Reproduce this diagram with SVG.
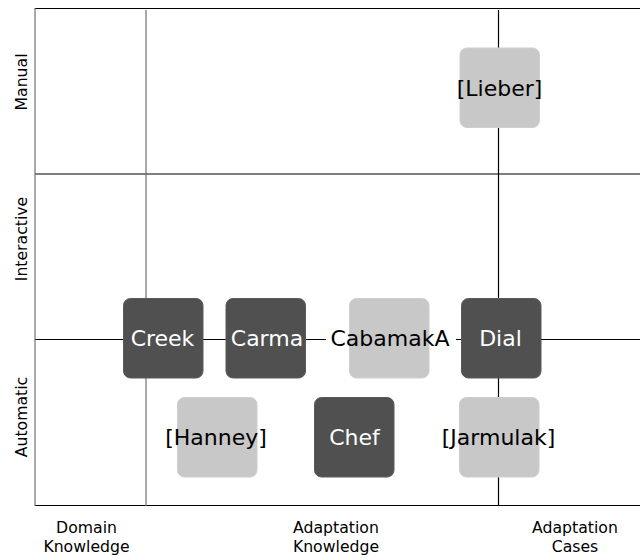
<svg xmlns="http://www.w3.org/2000/svg" width="640" height="558" viewBox="0 0 640 558">
<style>
.bg{fill:#ffffff}
.hl{stroke:#000000;stroke-width:1.2;fill:none}
.gl{stroke:#707070;stroke-width:1.2;fill:none}
.dark rect{fill:#505050;stroke:#5a5a5a;stroke-width:1}
.light rect{fill:#c8c8c8;stroke:#cecece;stroke-width:1}
.dark text{fill:#ffffff}
.light text{fill:#000000}
text{font-family:"DejaVu Sans","Liberation Sans",sans-serif}
.nt{font-size:22px;text-anchor:middle}
.ax{font-size:15.7px;text-anchor:middle;fill:#000000}
</style>
<rect class="bg" x="0" y="0" width="640" height="558"/>
<g id="grid">
<line class="hl" x1="35" y1="8.5" x2="640" y2="8.5"/>
<line class="hl" x1="35" y1="174" x2="640" y2="174"/>
<line class="hl" x1="35" y1="339.5" x2="326" y2="339.5"/>
<line class="hl" x1="456" y1="339.5" x2="640" y2="339.5"/>
<line class="hl" x1="35" y1="505.5" x2="640" y2="505.5"/>
<line class="gl" x1="35" y1="8" x2="35" y2="506"/>
<line class="gl" x1="146" y1="10" x2="146" y2="506"/>
<line class="hl" x1="498.5" y1="10" x2="498.5" y2="506"/>
</g>
<g id="axis-labels">
<text class="ax" transform="translate(26.5,82) rotate(-90)">Manual</text>
<text class="ax" transform="translate(26.5,239) rotate(-90)">Interactive</text>
<text class="ax" transform="translate(26.5,417) rotate(-90)">Automatic</text>
<text class="ax" x="86.5" y="532.5">Domain</text>
<text class="ax" x="86.5" y="551.5">Knowledge</text>
<text class="ax" x="336" y="532.5">Adaptation</text>
<text class="ax" x="336" y="551.5">Knowledge</text>
<text class="ax" x="575" y="532.5">Adaptation</text>
<text class="ax" x="575" y="551.5">Cases</text>
</g>
<g id="lieber" class="light">
<rect x="460" y="48" width="79.5" height="79.5" rx="7"/>
<text class="nt" x="499.5" y="95.5">[Lieber]</text>
</g>
<g id="creek" class="dark">
<rect x="123.5" y="298.5" width="79.5" height="79.5" rx="7"/>
<text class="nt" x="162.5" y="345.8">Creek</text>
</g>
<g id="carma" class="dark">
<rect x="226" y="298.5" width="79.5" height="79.5" rx="7"/>
<text class="nt" x="267" y="345.8">Carma</text>
</g>
<g id="cabamaka" class="light">
<rect x="349.5" y="298.5" width="79.5" height="79.5" rx="7"/>
<text class="nt" x="390" y="345.8">CabamakA</text>
</g>
<g id="dial" class="dark">
<rect x="461.5" y="298.5" width="79.5" height="79.5" rx="7"/>
<text class="nt" x="500.5" y="345.8">Dial</text>
</g>
<g id="hanney" class="light">
<rect x="177.5" y="397.5" width="79.5" height="79.5" rx="7"/>
<text class="nt" x="216" y="444.5">[Hanney]</text>
</g>
<g id="chef" class="dark">
<rect x="314.5" y="397.5" width="79.5" height="79.5" rx="7"/>
<text class="nt" x="354.5" y="444.5">Chef</text>
</g>
<g id="jarmulak" class="light">
<rect x="459.5" y="397.5" width="79.5" height="79.5" rx="7"/>
<text class="nt" x="498.5" y="444.5">[Jarmulak]</text>
</g>
</svg>
